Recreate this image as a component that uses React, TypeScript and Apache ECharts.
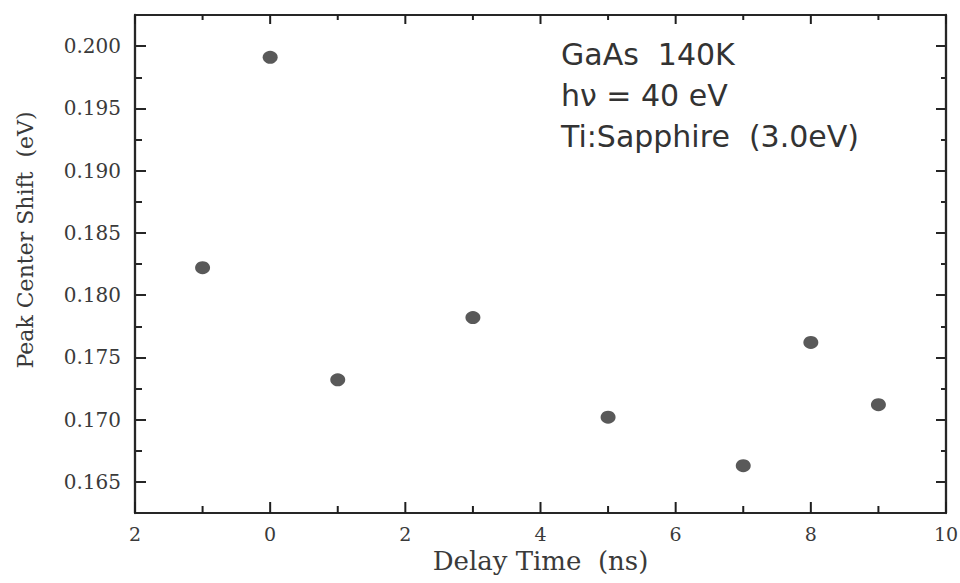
import React, { useEffect, useRef } from "react";
import * as echarts from "echarts";

// Data
const delayTimes = [-1, 0, 1, 3, 5, 7, 8, 9];
const peakShifts = [0.1822, 0.1991, 0.1732, 0.1782, 0.1702, 0.1663, 0.1762, 0.1712];

// Axis ticks / labels
const xTickValues = [-2, 0, 2, 4, 6, 8, 10];
const xTickLabels = ["2", "0", "2", "4", "6", "8", "10"];
const xMinorTickValues = [-1, 1, 3, 5, 7, 9];
const yTickValues = [0.165, 0.17, 0.175, 0.18, 0.185, 0.19, 0.195, 0.2];
const yMinorTickValues = [0.1675, 0.1725, 0.1775, 0.1825, 0.1875, 0.1925, 0.1975];

const annotationLines = ["GaAs  140K", "h\u03bd = 40 eV", "Ti:Sapphire  (3.0eV)"];
const xTitle = "Delay Time  (ns)";
const yTitle = "Peak Center Shift  (eV)";

const AXIS_COLOR = "#262626";
const LABEL_COLOR = "#3a3a3a";
const SERIF = "'DejaVu Serif', serif";
const SANS = "'DejaVu Sans', sans-serif";

const Y_MIN = 0.1625;
const Y_MAX = 0.2025;

export default function App() {
  const ref = useRef<HTMLDivElement>(null);

  useEffect(() => {
    if (!ref.current) return;
    const chart = echarts.init(ref.current, undefined, { renderer: "svg" });

    const mainLine = (w: number) => ({ show: true, onZero: false, lineStyle: { color: AXIS_COLOR, width: w } });
    const noLine = { show: false, onZero: false };

    const yAxisFor = (position: string, major: boolean, length: number, extra: any = {}) => ({
      type: "value",
      position,
      min: Y_MIN,
      max: Y_MAX,
      splitLine: { show: false },
      axisLine: major ? mainLine(2.3) : noLine,
      axisTick: {
        show: true,
        inside: true,
        length,
        lineStyle: { color: AXIS_COLOR, width: 2 },
        customValues: major ? yTickValues : yMinorTickValues,
      },
      axisLabel: { show: false },
      ...extra,
    });

    // x-axis inward ticks (bottom and top edges) drawn by a custom series through the axis scale
    const tickRows = [
      ...xTickValues.map((v) => [v, 11, 9]),
      ...xMinorTickValues.map((v) => [v, 7, 5]),
    ];

    chart.setOption({
      animation: false,
      backgroundColor: "#ffffff",
      grid: {
        left: 135,
        right: 14,
        top: 15,
        bottom: 70,
        containLabel: false,
        outerBoundsMode: "none",
      },
      xAxis: [
        {
          type: "value",
          position: "bottom",
          min: -2,
          max: 10,
          interval: 2,
          axisLine: mainLine(2.2),
          axisTick: { show: false },
          splitLine: { show: false },
          axisLabel: {
            show: true,
            margin: 11,
            fontFamily: SERIF,
            fontSize: 19,
            color: LABEL_COLOR,
            formatter: (v: number) => {
              const i = xTickValues.indexOf(Math.round(v));
              return i >= 0 ? xTickLabels[i] : "";
            },
          },
          name: xTitle,
          nameLocation: "middle",
          nameGap: 35,
          nameTextStyle: { fontFamily: SERIF, fontSize: 26, color: LABEL_COLOR },
        },
        {
          type: "value",
          position: "top",
          min: -2,
          max: 10,
          interval: 2,
          axisLine: mainLine(2.2),
          axisTick: { show: false },
          splitLine: { show: false },
          axisLabel: { show: false },
        },
      ],
      yAxis: [
        yAxisFor("left", true, 11, {
          axisLabel: {
            show: true,
            customValues: yTickValues,
            margin: 14,
            fontFamily: SERIF,
            fontSize: 20,
            color: LABEL_COLOR,
            formatter: (v: number) => v.toFixed(3),
          },
        }),
        yAxisFor("left", false, 7),
        yAxisFor("right", true, 10),
        yAxisFor("right", false, 5),
      ],
      series: [
        {
          type: "custom",
          xAxisIndex: 0,
          yAxisIndex: 0,
          silent: true,
          clip: false,
          z: 5,
          data: tickRows,
          renderItem: (params: any, api: any) => {
            const v = api.value(0);
            const lenB = api.value(1);
            const lenT = api.value(2);
            const bottom = api.coord([v, Y_MIN]);
            const top = api.coord([v, Y_MAX]);
            const style = { stroke: "#1e1e1e", lineWidth: 2, fill: "none" };
            return {
              type: "group",
              children: [
                { type: "line", shape: { x1: bottom[0], y1: bottom[1], x2: bottom[0], y2: bottom[1] - lenB }, style },
                { type: "line", shape: { x1: top[0], y1: top[1], x2: top[0], y2: top[1] + lenT }, style },
              ],
            };
          },
        },
        {
          type: "scatter",
          xAxisIndex: 0,
          yAxisIndex: 0,
          data: delayTimes.map((x, i) => [x, peakShifts[i]]),
          symbol: "circle",
          symbolSize: [15, 13],
          itemStyle: { color: "#2f2f2f" },
          z: 6,
        },
      ],
      graphic: [
        {
          type: "text",
          x: 25,
          y: 240,
          rotation: Math.PI / 2,
          style: {
            text: yTitle,
            fontFamily: SERIF,
            fontSize: 22,
            fill: LABEL_COLOR,
            align: "center",
            verticalAlign: "middle",
          },
        },
        ...annotationLines.map((t, i) => ({
          type: "text",
          x: 561,
          y: 54 + i * 41,
          style: {
            text: t,
            fontFamily: SANS,
            fontSize: 30,
            fill: "#333333",
            align: "left",
            verticalAlign: "middle",
          },
        })),
      ],
    });

    return () => chart.dispose();
  }, []);

  return (
    <div
      ref={ref}
      style={{ position: "fixed", left: 0, top: 0, width: 960, height: 583, background: "#fff" }}
    />
  );
}
